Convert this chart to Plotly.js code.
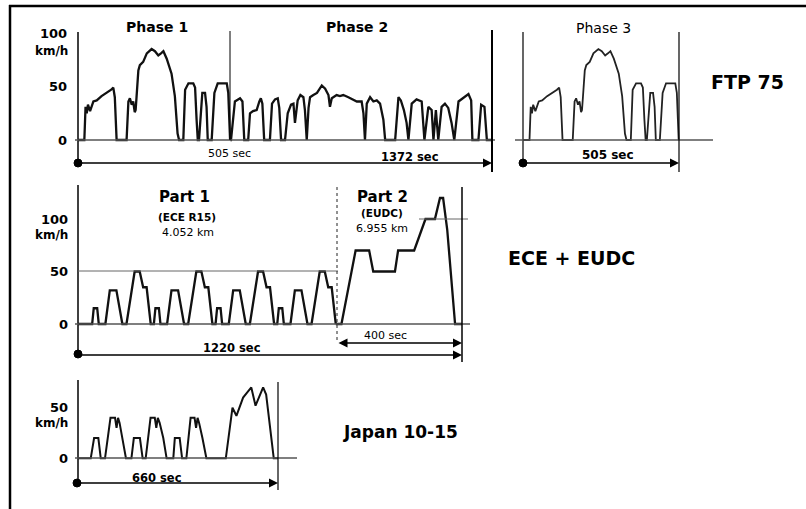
<!DOCTYPE html>
<html><head><meta charset="utf-8">
<script src="https://cdn.plot.ly/plotly-3.0.1.min.js"></script>
<style>html,body{margin:0;padding:0;background:#fff}#c{width:806px;height:509px}</style>
</head><body><div id="c"></div>
<script>
// ---------- data (time in s, speed in km/h) ----------
const ftpPhase1T = [0,21,25,29,33,40,51,62,78,90,101,110,117,122,128,161,167,172,178,183,188,191,194,200,205,216,228,244,255,266,275,283,294,310,321,330,335,349,355,366,382,388,393,397,401,408,412,421,426,430,443,452,463,493,498,504];
const ftpPhase1V = [0,0,31,25,33,27,36,37,41,43,45,47,49,40,0,0,36,39,33,36,26,28,40,65,70,73,81,85,83,79,81,83,76,62,41,6,0,0,47,53,53,49,19,0,0,36,44,44,31,0,0,44,53,53,44,0];
const ftpPhase2T = [505,507,520,537,545,551,564,570,580,592,601,606,611,617,636,643,653,662,667,673,686,695,706,714,719,723,728,737,747,752,758,764,769,780,792,808,819,830,835,841,857,868,879,896,913,924,940,946,951,957,968,979,990,1001,1012,1018,1051,1062,1070,1080,1089,1095,1106,1122,1139,1148,1161,1172,1178,1186,1194,1205,1216,1227,1238,1247,1261,1277,1294,1303,1307,1327,1336,1347,1355,1372];
const ftpPhase2V = [0,0,36,39,36,0,0,25,27,28,36,39,34,0,0,34,38,39,30,0,0,25,33,34,16,25,37,42,40,28,0,30,40,42,44,51,48,42,31,39,42,41,42,40,38,36,36,25,0,34,40,36,37,34,19,0,0,40,37,28,16,0,34,38,36,0,31,28,0,28,0,31,34,30,16,0,36,39,43,37,0,0,33,31,0,0];
// Phase 3 (hot start) repeats the Phase 1 profile
const ftpPhase3T = ftpPhase1T.slice();
const ftpPhase3V = ftpPhase1V.slice();

const ecePart1T = [0,45,50,61,66,87,101,122,141,154,180,196,207,218,231,241,246,257,262,283,297,318,337,350,376,392,403,414,427,437,442,453,458,479,493,514,533,546,572,588,599,610,623,633,638,649,654,675,689,710,729,742,768,784,795,806,819];
const ecePart1V = [0,0,15,15,0,0,32,32,0,0,50,50,35,35,0,0,15,15,0,0,32,32,0,0,50,50,35,35,0,0,15,15,0,0,32,32,0,0,50,50,35,35,0,0,15,15,0,0,32,32,0,0,50,50,35,35,0];
const ecePart2T = [819,837,882,925,938,1007,1017,1068,1104,1134,1150,1160,1173,1198,1220];
const ecePart2V = [0,0,70,70,50,50,70,70,100,100,120,120,90,0,0];

const japanT = [0,43,54,68,76,90,108,123,128,133,138,148,159,177,185,205,214,224,240,254,259,264,270,282,293,315,320,336,344,358,372,385,390,395,400,411,424,488,510,523,545,558,572,586,611,621,646,660];
const japanV = [0,0,20,20,0,0,40,40,30,40,35,20,0,0,20,20,0,0,40,40,30,40,35,20,0,0,20,20,0,0,40,40,30,40,35,20,0,0,50,42,60,65,70,52,70,63,0,0];

const ftpTicks = [0,50,100];
const eceTicks = [0,50,100];
const japanTicks = [0,50];
const unitLabel = "km/h";
const ftpPhaseLabels = ["Phase 1","Phase 2","Phase 3"];
const ftpDurations = ["505 sec","1372 sec","505 sec"];
const eceLabels = ["Part 1","(ECE R15)","4.052 km","Part 2","(EUDC)","6.955 km"];
const eceDurations = ["1220 sec","400 sec"];
const japanDuration = "660 sec";
const cycleNames = ["FTP 75","ECE + EUDC","Japan 10-15"];

// ---------- layout helpers ----------
const W = 806, H = 509;
const PX = x => x / W, PY = y => 1 - y / H;
function axX(lo, hi, pA, tA, pB, tB, anchor){
  const k = (tB - tA) / (pB - pA);
  return {domain:[lo/W, hi/W], range:[tA + (lo - pA)*k, tA + (hi - pA)*k], visible:false, fixedrange:true, anchor:anchor};
}
function axY(top, bot, pA, vA, pB, vB, anchor){
  const k = (vB - vA) / (pB - pA);
  return {domain:[1 - bot/H, 1 - top/H], range:[vA + (bot - pA)*k, vA + (top - pA)*k], visible:false, fixedrange:true, anchor:anchor};
}
const FONT = "DejaVu Sans";
const shapes = [];
function seg(x0,y0,x1,y1,w,color,dash){
  shapes.push({type:'line', xref:'paper', yref:'paper', x0:PX(x0), y0:PY(y0), x1:PX(x1), y1:PY(y1),
    line:{color:color||'#000', width:w||1.5, dash:dash||'solid'}});
}
function dot(x,y,r){
  shapes.push({type:'circle', xref:'paper', yref:'paper', x0:PX(x-r), x1:PX(x+r), y0:PY(y+r), y1:PY(y-r),
    fillcolor:'#000', line:{color:'#000', width:1}});
}
const ann = [];
function txt(x,y,t,size,bold,xanchor){
  ann.push({xref:'paper', yref:'paper', x:PX(x), y:PY(y), text: bold ? '<b>'+t+'</b>' : t,
    showarrow:false, xanchor:xanchor||'center', yanchor:'middle',
    font:{family:FONT, size:size, color:'#000'}});
}
function arrow(x0,x1,y,both){
  ann.push({xref:'paper', yref:'paper', x:PX(x1), y:PY(y), ax:x0 - x1, ay:0, text:'', showarrow:true,
    arrowhead:2, arrowsize:1.2, arrowwidth:1.5, arrowcolor:'#000', arrowside: both ? 'end+start' : 'end',
    standoff:0, startstandoff:0});
}
function ticks(vals, yref, xr){
  vals.forEach(v => ann.push({xref:'paper', yref:yref, x:PX(xr), y:v, text:'<b>'+v+'</b>', showarrow:false,
    xanchor:'right', yanchor:'middle', font:{family:FONT, size:13, color:'#000'}}));
}

// frame
seg(9,6,806,6,2.5);
seg(10,5,10,509,2.5);

// FTP 75, phases 1+2
seg(78,32,78,163,1.5);
seg(75,140,495,140,1.5,'#555');
seg(230,31,230,140,1);
seg(492,30,492,172,2);
dot(78,163,4);
arrow(78,492,163,false);
// FTP 75, phase 3
seg(523,32,523,163,1.2);
seg(515,140,713,140,1.5,'#555');
seg(679,32,679,172,1.2);
dot(523,163,4);
arrow(523,679,163,false);
// ECE + EUDC
seg(78,185,78,354,1.5);
seg(75,324,470,324,1.5,'#555');
seg(78,271,338,271,1,'#666');
seg(419,219,468,219,1,'#666');
seg(337,187,337,343,1,'#222','dot');
seg(462,187,462,362,1.5);
dot(78,354,4);
arrow(78,462,355,false);
arrow(337,462,343,true);
// Japan 10-15
seg(78,380,78,483,1.5);
seg(75,458,297,458,1.5,'#555');
seg(278,382,278,490,1.2);
dot(77,483,4);
arrow(77,278,483,false);

// text
ticks(ftpTicks,'y',69);
txt(70,51,unitLabel,12,true,'right');
ticks(eceTicks,'y3',70);
txt(70,235,unitLabel,12,true,'right');
ticks(japanTicks,'y4',70);
txt(70,423,unitLabel,12,true,'right');

txt(157,27,ftpPhaseLabels[0],14,true);
txt(357,27,ftpPhaseLabels[1],14,true);
txt(603,28,ftpPhaseLabels[2],14,false);
txt(230,153,ftpDurations[0],11,false);
txt(410,157,ftpDurations[1],11.5,true);
txt(608,155,ftpDurations[2],12,true);
txt(747,82,cycleNames[0],19,true);

txt(184,197,eceLabels[0],15,true);
txt(187,217,eceLabels[1],10.5,true);
txt(188,233,eceLabels[2],11,false);
txt(382,197,eceLabels[3],15,true);
txt(382,213,eceLabels[4],10.5,true);
txt(382,228,eceLabels[5],11,false);
txt(232,348,eceDurations[0],11.5,true);
txt(385,335,eceDurations[1],11,false);
txt(571,258,cycleNames[1],19,true);

txt(157,478,japanDuration,11.5,true);
txt(400,432,cycleNames[2],17,true);

// ---------- traces ----------
const LINE = {color:'#111', width:2.3};
const traces = [
  {x:ftpPhase1T, y:ftpPhase1V, xaxis:'x', yaxis:'y', mode:'lines', line:LINE, hoverinfo:'skip'},
  {x:ftpPhase2T, y:ftpPhase2V, xaxis:'x', yaxis:'y', mode:'lines', line:LINE, hoverinfo:'skip'},
  {x:ftpPhase3T, y:ftpPhase3V, xaxis:'x2', yaxis:'y2', mode:'lines', line:{color:'#222', width:1.8}, hoverinfo:'skip'},
  {x:ecePart1T, y:ecePart1V, xaxis:'x3', yaxis:'y3', mode:'lines', line:LINE, hoverinfo:'skip'},
  {x:ecePart2T, y:ecePart2V, xaxis:'x3', yaxis:'y3', mode:'lines', line:LINE, hoverinfo:'skip'},
  {x:japanT, y:japanV, xaxis:'x4', yaxis:'y4', mode:'lines', line:{color:'#111', width:2}, hoverinfo:'skip'}
];

const layout = {
  width:W, height:H, margin:{l:0,r:0,t:0,b:0}, paper_bgcolor:'#fff', plot_bgcolor:'rgba(0,0,0,0)',
  showlegend:false, font:{family:FONT, color:'#000'},
  xaxis:  axX(76,496, 78,0, 492,1372, 'y'),
  yaxis:  axY(28,165, 140,0, 33,100, 'x'),
  xaxis2: axX(521,683, 523,0, 679,505, 'y2'),
  yaxis2: axY(28,165, 140,0, 33,100, 'x2'),
  xaxis3: axX(76,466, 78,0, 462,1220, 'y3'),
  yaxis3: axY(180,330, 324,0, 219,100, 'x3'),
  xaxis4: axX(76,282, 77.7,0, 278,660, 'y4'),
  yaxis4: axY(375,462, 458.3,0, 407.7,50, 'x4'),
  shapes: shapes, annotations: ann
};
Plotly.newPlot('c', traces, layout, {staticPlot:true, displayModeBar:false});
</script></body></html>
